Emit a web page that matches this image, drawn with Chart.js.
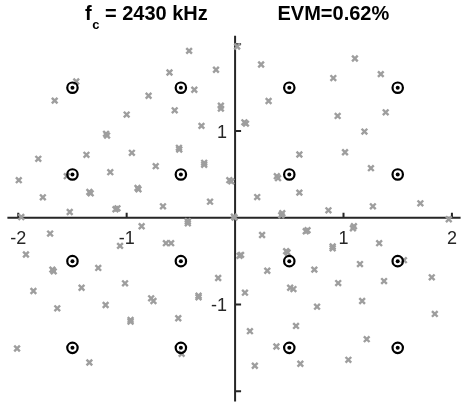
<!DOCTYPE html>
<html>
<head>
<meta charset="utf-8">
<script src="https://cdn.jsdelivr.net/npm/chart.js@4.4.0/dist/chart.umd.min.js"></script>
<style>
  html, body { margin: 0; padding: 0; background: #ffffff; }
  canvas { display: block; }
</style>
</head>
<body>
<canvas id="constellation" width="468" height="409"></canvas>
<script>
// Ideal 16-QAM reference symbols (in-phase / quadrature)
const idealI = [-1.5, -0.5, 0.5, 1.5, -1.5, -0.5, 0.5, 1.5, -1.5, -0.5, 0.5, 1.5, -1.5, -0.5, 0.5, 1.5];
const idealQ = [1.5, 1.5, 1.5, 1.5, 0.5, 0.5, 0.5, 0.5, -0.5, -0.5, -0.5, -0.5, -1.5, -1.5, -1.5, -1.5];

// Received symbols
const rxI = [
  0.019, -0.424, 1.105, 0.240, -0.176, -0.605, 1.344, 0.906, -1.465, -0.376,
  -1.664, -0.798, 0.309, -0.131, -0.131, -0.557, -1.000, 0.946, 1.389, -0.310,
  0.086, 0.100, 1.193, -1.190, -1.181,
  -1.815, -1.371, -0.952, -0.518, -0.515, -0.285, -0.285, -0.732, -1.151, -1.552,
  -1.995, -0.053, -0.035, -0.900, -0.891, -1.344, -1.332, -1.773, -0.231, -0.665,
  -1.103, -1.085, -1.525, -1.972, -0.011, -0.436, -0.436, -0.862, -1.706, -1.061,
  -0.638, -0.590, -1.929, -1.685, -1.673, -1.262,
  0.593, 1.014, 0.385, 0.396, 1.253, 0.204, 0.593, 1.709, 1.271, 0.861,
  0.435, 0.426, -0.005, 1.971, 0.668, 0.652, 1.096, 1.087, 0.249, 1.329,
  0.900, 0.900, 0.055, 0.041, 0.471, 0.484, 1.152, 1.557, 0.297, 0.731,
  -1.860, -1.416, -1.015, -0.774, -0.753, -0.337, -0.337, -0.156, -1.640, -1.194,
  -0.964, -0.964, -0.524, -2.011, -1.344, -0.493,
  0.091, 0.508, 0.538, 0.951, 1.374, 1.814, 0.756, 1.172, 1.842, 0.137,
  0.562, 1.214, 0.381, 0.182, 0.602, 1.045
];
const rxQ = [
  1.975, 1.925, 1.837, 1.768, 1.707, 1.676, 1.657, 1.611, 1.572, 1.477,
  1.351, 1.408, 1.347, 1.293, 1.259, 1.239, 1.190, 1.175, 1.216, 1.060,
  1.101, 1.086, 0.994, 0.968, 0.948,
  0.680, 0.726, 0.749, 0.807, 0.787, 0.634, 0.611, 0.595, 0.526, 0.480,
  0.434, 0.434, 0.420, 0.343, 0.328, 0.297, 0.282, 0.236, 0.186, 0.132,
  0.098, 0.109, 0.067, 0.009, 0.014, -0.040, -0.063, -0.098, -0.182, -0.324,
  -0.293, -0.293, -0.423, -0.598, -0.618, -0.578,
  0.730, 0.756, 0.480, 0.457, 0.572, 0.239, 0.290, 0.167, 0.132, 0.086,
  0.052, 0.029, 0.002, -0.017, -0.144, -0.155, -0.098, -0.121, -0.198, -0.293,
  -0.331, -0.351, -0.428, -0.439, -0.385, -0.400, -0.534, -0.489, -0.611, -0.598,
  -0.845, -0.807, -0.756, -0.929, -0.960, -0.899, -0.917, -0.695, -1.044, -1.006,
  -1.178, -1.198, -1.159, -1.508, -1.669, -1.569,
  -0.864, -0.807, -0.822, -0.753, -0.730, -0.687, -1.025, -0.960, -1.109, -1.308,
  -1.247, -1.400, -1.485, -1.707, -1.684, -1.638
];

// Axis ticks through the origin
const xTickValues = [-2, -1, 1, 2];
const xTickLabels = ['-2', '-1', '1', '2'];
const yTickValues = [-2, -1, 1, 2];
const yTickLabels = ['', '-1', '1', ''];

// Title parts
const titleFreq = ['f', 'c', ' = 2430 kHz'];
const titleEvm = 'EVM=0.62%';

const toPoints = (xs, ys) => xs.map((v, i) => ({ x: v, y: ys[i] }));

const AXIS_COLOR = '#262626';
const FONT = '"Liberation Sans", Arial, Helvetica, sans-serif';

const originAxes = {
  id: 'originAxes',
  beforeDatasetsDraw(chart) {
    const { ctx, chartArea: a, scales: { x, y } } = chart;
    const x0 = x.getPixelForValue(0);
    const y0 = y.getPixelForValue(0);
    ctx.save();
    ctx.strokeStyle = AXIS_COLOR;
    ctx.lineWidth = 2;
    ctx.beginPath();
    ctx.moveTo(a.left, y0); ctx.lineTo(a.right, y0);
    ctx.moveTo(x0, a.top); ctx.lineTo(x0, a.bottom);
    // tick marks: upward on the horizontal axis, rightward on the vertical one
    xTickValues.forEach(v => {
      const px = x.getPixelForValue(v);
      ctx.moveTo(px, y0); ctx.lineTo(px, y0 - 5);
    });
    yTickValues.forEach(v => {
      const py = y.getPixelForValue(v);
      ctx.moveTo(x0, py); ctx.lineTo(x0 + 6, py);
    });
    ctx.stroke();

    ctx.fillStyle = AXIS_COLOR;
    ctx.font = '18px ' + FONT;
    ctx.textAlign = 'center';
    ctx.textBaseline = 'alphabetic';
    xTickValues.forEach((v, i) => {
      ctx.fillText(xTickLabels[i], x.getPixelForValue(v), y0 + 26.5);
    });
    ctx.textAlign = 'right';
    yTickValues.forEach((v, i) => {
      if (yTickLabels[i]) ctx.fillText(yTickLabels[i], x0 - 8, y.getPixelForValue(v) + 7);
    });
    ctx.restore();
  },
  afterDraw(chart) {
    const { ctx } = chart;
    ctx.save();
    ctx.fillStyle = '#000000';
    ctx.textBaseline = 'alphabetic';
    ctx.textAlign = 'left';
    let cx = 85;
    ctx.font = 'bold 20px ' + FONT;
    ctx.fillText(titleFreq[0], cx, 20);
    cx += ctx.measureText(titleFreq[0]).width;
    ctx.font = 'bold 13px ' + FONT;
    ctx.fillText(titleFreq[1], cx + 0.5, 28.5);
    cx += ctx.measureText(titleFreq[1]).width + 0.5;
    ctx.font = 'bold 20px ' + FONT;
    ctx.fillText(titleFreq[2], cx, 20);
    ctx.fillText(titleEvm, 277.5, 20);
    ctx.restore();
  }
};

new Chart(document.getElementById('constellation'), {
  type: 'scatter',
  data: {
    datasets: [
      {
        label: 'ideal ring',
        data: toPoints(idealI, idealQ),
        pointStyle: 'circle',
        pointRadius: 5.2,
        pointBorderWidth: 2.2,
        pointBorderColor: '#000000',
        pointBackgroundColor: 'rgba(0,0,0,0)',
        clip: false
      },
      {
        label: 'ideal dot',
        data: toPoints(idealI, idealQ),
        pointStyle: 'circle',
        pointRadius: 2,
        pointBorderWidth: 0,
        pointBackgroundColor: '#000000',
        clip: false
      },
      {
        label: 'received',
        data: toPoints(rxI, rxQ),
        pointStyle: 'crossRot',
        pointRadius: 4,
        pointBorderWidth: 2.4,
        pointBorderColor: '#9e9e9e',
        clip: false
      }
    ]
  },
  options: {
    responsive: false,
    devicePixelRatio: 1,
    animation: false,
    events: [],
    layout: { padding: { left: 5, right: 1, top: 35.7, bottom: 6.3 } },
    scales: {
      x: { type: 'linear', min: -2.1, max: 2.08, display: false },
      y: { type: 'linear', min: -2.12, max: 2.1, display: false }
    },
    plugins: {
      legend: { display: false },
      tooltip: { enabled: false },
      title: { display: false }
    }
  },
  plugins: [originAxes]
});
</script>
</body>
</html>
